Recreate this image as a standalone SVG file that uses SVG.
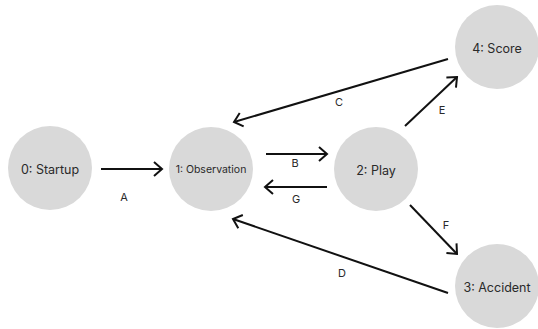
<svg xmlns="http://www.w3.org/2000/svg" width="538" height="329" viewBox="0 0 538 329">
<defs>
<style>
.node circle{fill:#d9d9d9;}
.node text{font-family:Inter,"Noto Sans",sans-serif;font-size:12.5px;fill:#2a2a2a;text-anchor:middle;dominant-baseline:central;}
.edge line{stroke:#111;stroke-width:2;fill:none;marker-end:url(#arr);}
.lbl{font-family:Inter,"Noto Sans",sans-serif;font-size:11px;fill:#2a2a2a;text-anchor:middle;dominant-baseline:central;}
</style>
<marker id="arr" markerUnits="userSpaceOnUse" markerWidth="14" markerHeight="16" viewBox="0 0 14 16" refX="12" refY="8" orient="auto">
<path d="M4,1 L12,8 L4,15" fill="none" stroke="#111" stroke-width="2"/>
</marker>
</defs>
<rect width="538" height="329" fill="#fff"/>
<g id="connectors" class="edge">
<line x1="101" y1="169" x2="162" y2="169"/>
<line x1="266" y1="154" x2="327" y2="154"/>
<line x1="327" y1="187" x2="265" y2="187"/>
<line x1="448" y1="59" x2="234" y2="122"/>
<line x1="405" y1="126" x2="457" y2="77"/>
<line x1="410" y1="205" x2="457" y2="254"/>
<line x1="448" y1="293" x2="233" y2="219"/>
<text class="lbl" x="124" y="197">A</text>
<text class="lbl" x="295" y="163">B</text>
<text class="lbl" x="296" y="199">G</text>
<text class="lbl" x="339" y="102">C</text>
<text class="lbl" x="442" y="110">E</text>
<text class="lbl" x="446" y="225">F</text>
<text class="lbl" x="342" y="273">D</text>
</g>
<g id="node0" class="node"><circle cx="50" cy="168" r="42"/><text x="50" y="169">0: Startup</text></g>
<g id="node1" class="node"><circle cx="211" cy="169" r="42"/><text x="211" y="169" style="font-size:10.5px">1: Observation</text></g>
<g id="node2" class="node"><circle cx="376" cy="169" r="42"/><text x="376" y="170">2: Play</text></g>
<g id="node4" class="node"><circle cx="497" cy="47" r="42"/><text x="497" y="48">4: Score</text></g>
<g id="node3" class="node"><circle cx="497" cy="286" r="42"/><text x="497" y="287">3: Accident</text></g>
</svg>
